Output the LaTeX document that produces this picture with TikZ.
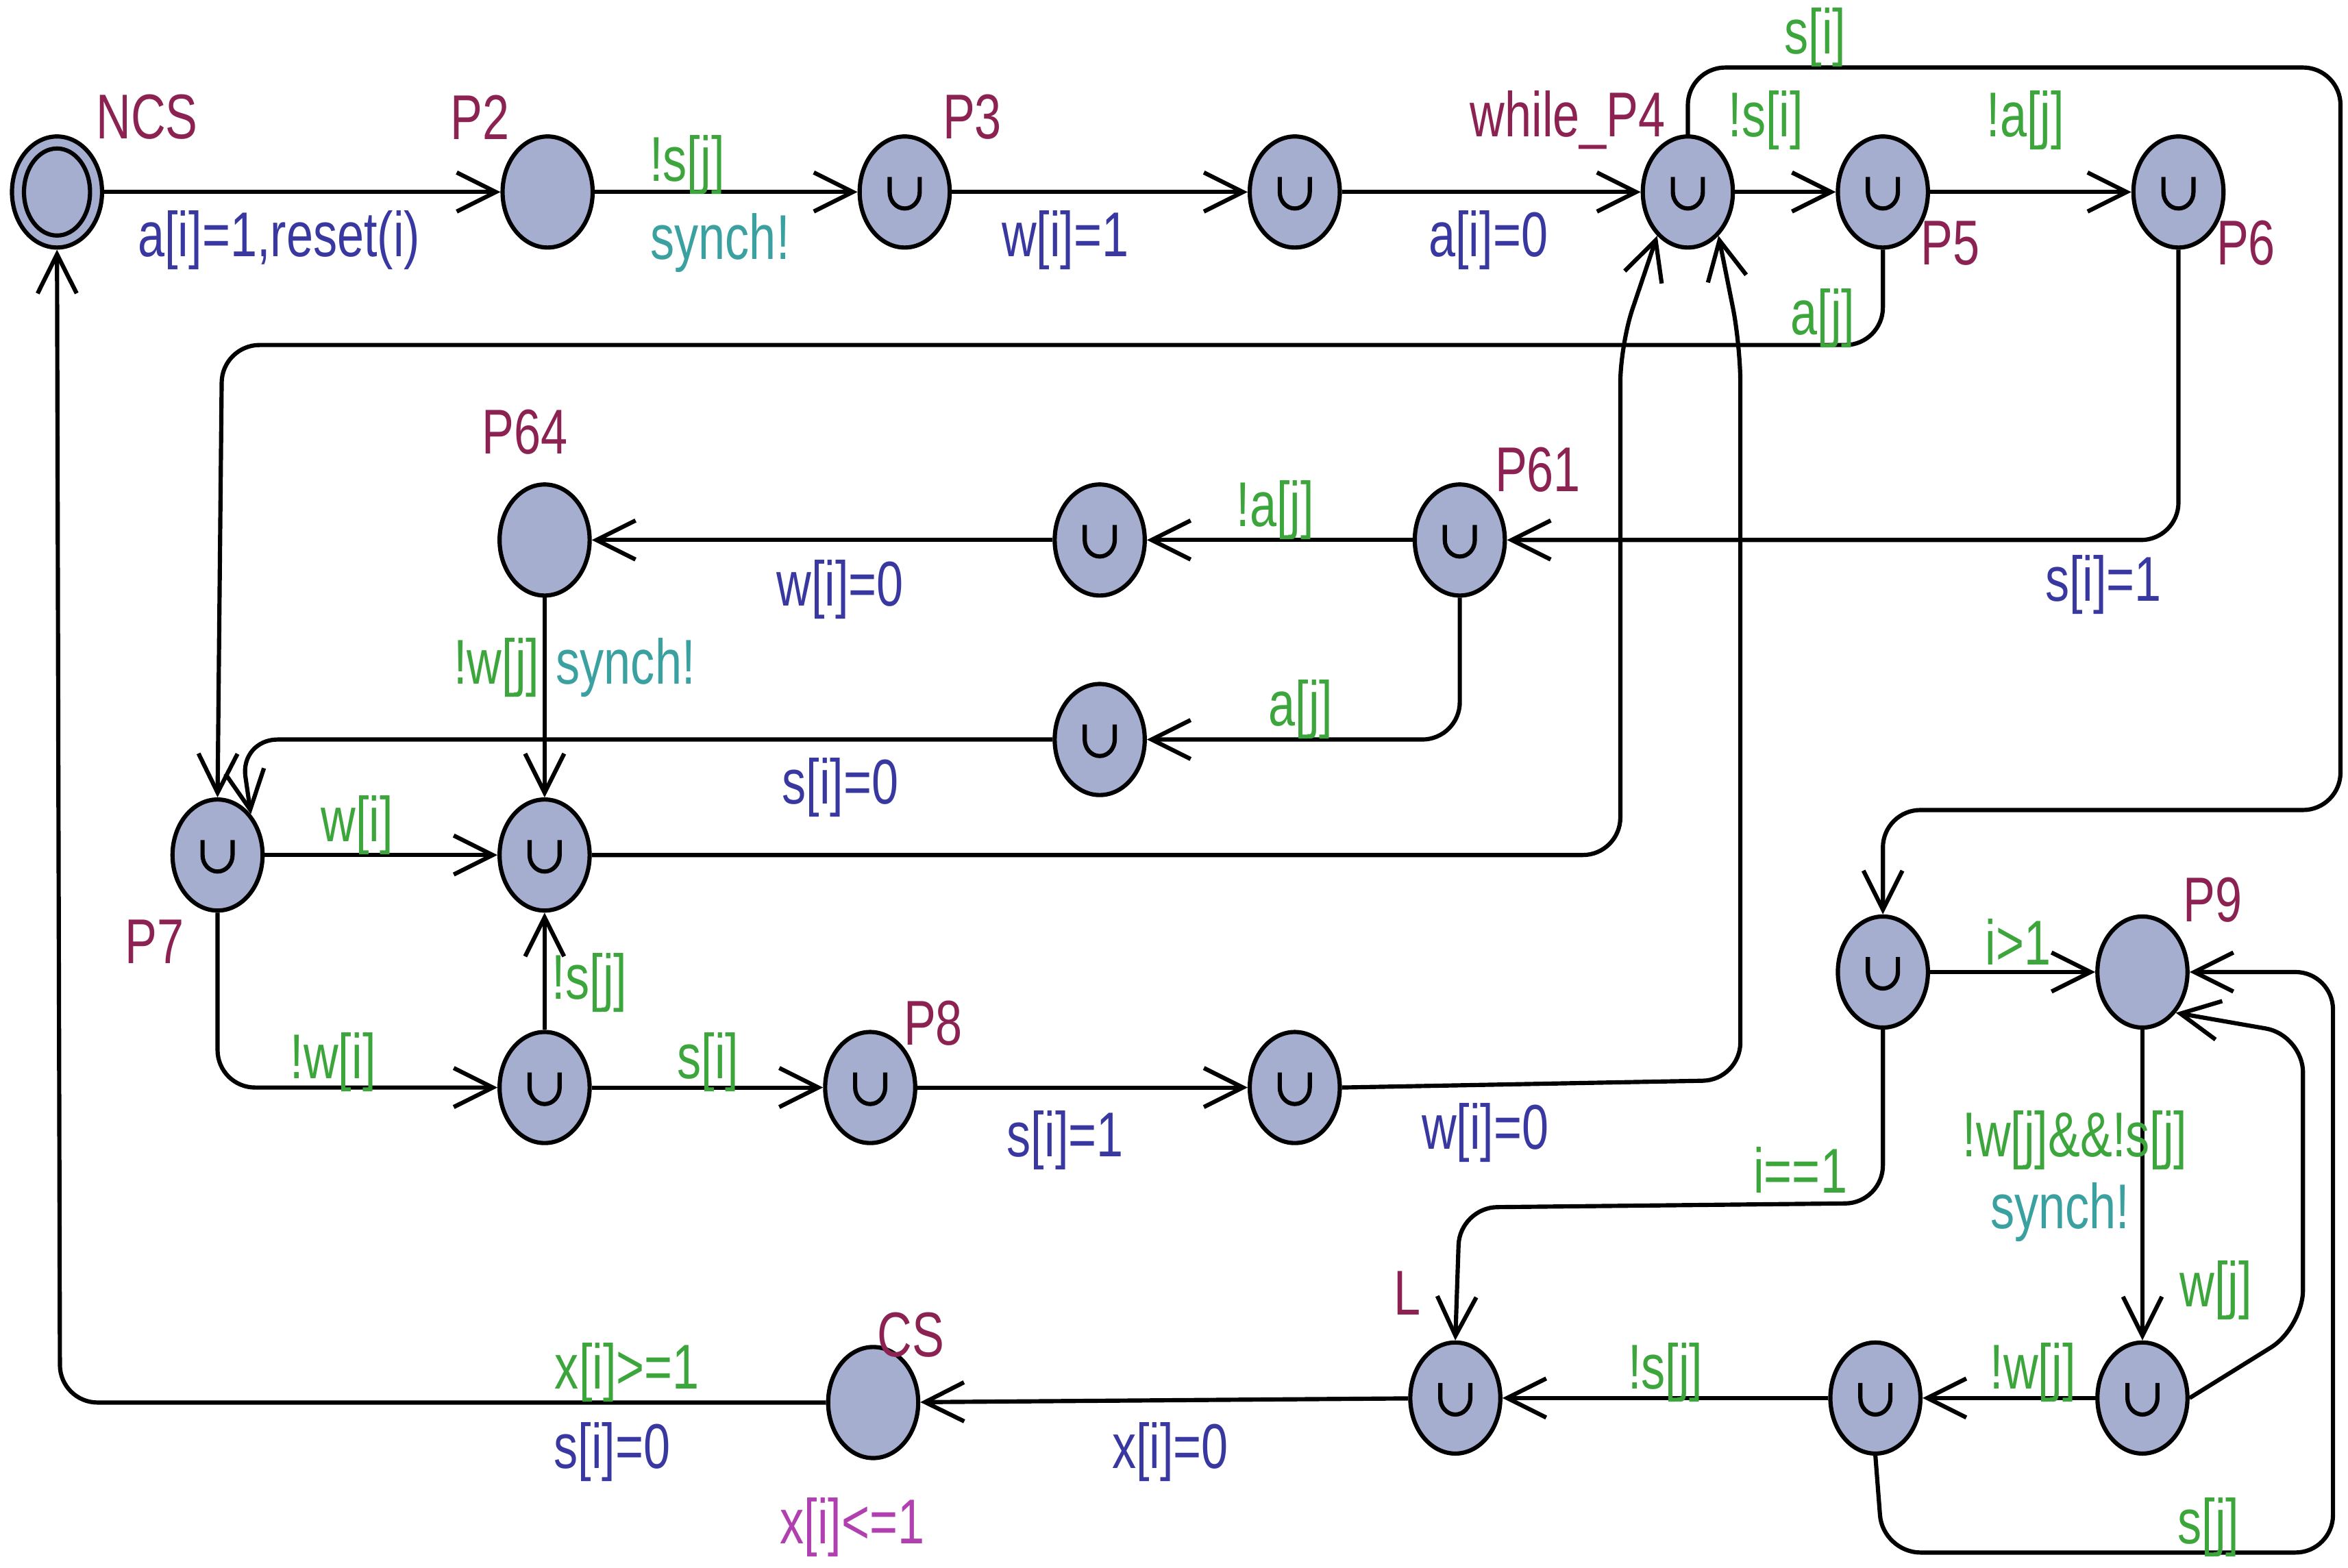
\documentclass[tikz,border=0pt]{standalone}
\usepackage{fontspec}
\setmainfont{Liberation Sans}[FakeStretch=0.76]
\usetikzlibrary{arrows.meta,shapes.geometric}
\definecolor{locfill}{RGB}{166,174,208}
\definecolor{guardc}{RGB}{60,165,60}
\definecolor{assignc}{RGB}{56,56,160}
\definecolor{syncc}{RGB}{58,160,160}
\definecolor{namec}{RGB}{140,34,82}
\definecolor{invc}{RGB}{176,64,176}
\tikzset{
  loc/.style={ellipse,draw,thick,fill=locfill,minimum width=0.6cm,minimum height=0.74cm,inner sep=0pt},
  comm/.style={loc,path picture={\draw[thick] ([xshift=-1mm,yshift=1mm]path picture bounding box.center) -- ++(0,-1mm) arc(180:360:1mm and 1.1mm) -- ++(0,1mm);}},
  init/.style={loc,path picture={\draw[thick] (path picture bounding box.center) ellipse (2.2mm and 2.9mm);}},
  edge/.style={thick,-{Straight Barb[length=2.6mm,width=2.6mm]},rounded corners=0.25cm},
  guard/.style={text=guardc,font=\large},
  assign/.style={text=assignc,font=\large},
  sync/.style={text=syncc,font=\large},
  locname/.style={text=namec,font=\large},
  inv/.style={text=invc,font=\large}
}
\begin{document}
\begin{tikzpicture}[x=0.01cm,y=-0.01cm]
\useasboundingbox (0,0) rectangle (1565,1045);
% locations
\node[init] (ncs) at (38,128) {};
\node[loc] (p2) at (365,128) {};
\node[comm] (p3) at (603,128) {};
\node[comm] (n4) at (863,128) {};
\node[comm] (p4) at (1125,128) {};
\node[comm] (p5) at (1255,128) {};
\node[comm] (p6) at (1452,128) {};
\node[comm] (p61) at (973,360) {};
\node[comm] (n62) at (733,360) {};
\node[loc] (p64) at (363,360) {};
\node[comm] (n63) at (733,493) {};
\node[comm] (p7) at (145,570) {};
\node[comm] (n71) at (363,570) {};
\node[comm] (n72) at (363,725) {};
\node[comm] (p8) at (580,725) {};
\node[comm] (n81) at (863,725) {};
\node[comm] (n91) at (1255,648) {};
\node[loc] (p9) at (1428,648) {};
\node[comm] (n92) at (1428,932) {};
\node[comm] (n93) at (1250,932) {};
\node[comm] (l) at (970,932) {};
\node[loc] (cs) at (582,935) {};
% names
\node[locname] (tncs) at (98,78) {NCS};
\node[locname] (tp2) at (320,78) {P2};
\node[locname] (tp3) at (648,78) {P3};
\node[locname] (tp4) at (1045,80) {while\_P4};
\node[locname] (tp5) at (1300,162) {P5};
\node[locname] (tp6) at (1497,162) {P6};
\node[locname] (tp61) at (1025,313) {P61};
\node[locname] (tp64) at (350,288) {P64};
\node[locname] (tp7) at (103,628) {P7};
\node[locname] (tp8) at (622,682) {P8};
\node[locname] (tp9) at (1475,600) {P9};
\node[locname] (tl) at (938,862) {L};
\node[locname] (tcs) at (607,890) {CS};
\node[inv] (ics) at (568,1018) {x[i]<=1};
% edges
\draw[edge] (ncs) -- (p2);
\draw[edge] (p2) -- (p3);
\draw[edge] (p3) -- (n4);
\draw[edge] (n4) -- (p4);
\draw[edge] (p4) -- (p5);
\draw[edge] (p5) -- (p6);
\draw[edge] (p4.north) -- (1125,45) -- (1560,45) -- (1560,540) -- (1255,540) -- (n91.north);
\draw[edge] (p5.south) -- (1255,230) -- (148,230) -- (p7.north);
\draw[edge] (p6.south) -- (1452,360) -- (p61.east);
\draw[edge] (p61) -- (n62);
\draw[edge] (n62) -- (p64);
\draw[edge] (p61.south) -- (973,493) -- (n63.east);
\draw[edge] (n63.west) -- (160,493) -- (p7.north east);
\draw[edge] (p64) -- (n71);
\draw[edge] (p7) -- (n71);
\draw[edge] (n71.east) -- (1080,570) -- (1080,230) -- (p4.235);
\draw[edge] (p7.south) -- (145,725) -- (n72.west);
\draw[edge] (n72) -- (n71);
\draw[edge] (n72) -- (p8);
\draw[edge] (p8) -- (n81);
\draw[edge] (n81.east) -- (1160,720) -- (1160,230) -- (p4.305);
\draw[edge] (n91) -- (p9);
\draw[edge] (n91.south) -- (1255,802) -- (973,805) -- (l.north);
\draw[edge] (p9) -- (n92);
\draw[edge] (n92.east) -- (1535,885) -- (1535,690) -- (p9.south east);
\draw[edge] (n93.south) -- (1255,1035) -- (1555,1035) -- (1555,648) -- (p9.east);
\draw[edge] (n92) -- (n93);
\draw[edge] (n93) -- (l);
\draw[edge] (l) -- (cs);
\draw[edge] (cs.west) -- (40,935) -- (ncs.south);
% edge labels
\node[assign] (e1) at (186,160) {a[i]=1,reset(i)};
\node[guard] (e2a) at (458,110) {!s[j]};
\node[sync] (e2b) at (480,162) {synch!};
\node[assign] (e3) at (710,160) {w[i]=1};
\node[assign] (e4) at (992,160) {a[i]=0};
\node[guard] (e5) at (1177,80) {!s[i]};
\node[guard] (e6) at (1350,80) {!a[j]};
\node[guard] (e7) at (1210,25) {s[i]};
\node[guard] (e8) at (1215,212) {a[j]};
\node[assign] (e9) at (1402,390) {s[i]=1};
\node[guard] (e10) at (850,340) {!a[j]};
\node[assign] (e11) at (560,393) {w[i]=0};
\node[guard] (e12) at (867,473) {a[j]};
\node[assign] (e13) at (560,525) {s[i]=0};
\node[guard] (e14a) at (331,445) {!w[j]};
\node[sync] (e14b) at (417,445) {synch!};
\node[guard] (e15) at (238,550) {w[i]};
\node[guard] (e16) at (222,708) {!w[i]};
\node[guard] (e17) at (393,655) {!s[j]};
\node[guard] (e18) at (472,708) {s[i]};
\node[assign] (e19) at (710,760) {s[i]=1};
\node[assign] (e20) at (990,755) {w[i]=0};
\node[guard] (e21) at (1345,628) {i>1};
\node[guard] (e22) at (1200,780) {i==1};
\node[guard] (e23a) at (1383,760) {!w[j]\&\&!s[j]};
\node[sync] (e23b) at (1373,808) {synch!};
\node[guard] (e24) at (1477,860) {w[j]};
\node[guard] (e25) at (1472,1018) {s[j]};
\node[guard] (e26) at (1355,915) {!w[j]};
\node[guard] (e27) at (1110,915) {!s[j]};
\node[assign] (e28) at (780,968) {x[i]=0};
\node[guard] (e29a) at (418,915) {x[i]>=1};
\node[assign] (e29b) at (408,968) {s[i]=0};
\end{tikzpicture}
\end{document}
